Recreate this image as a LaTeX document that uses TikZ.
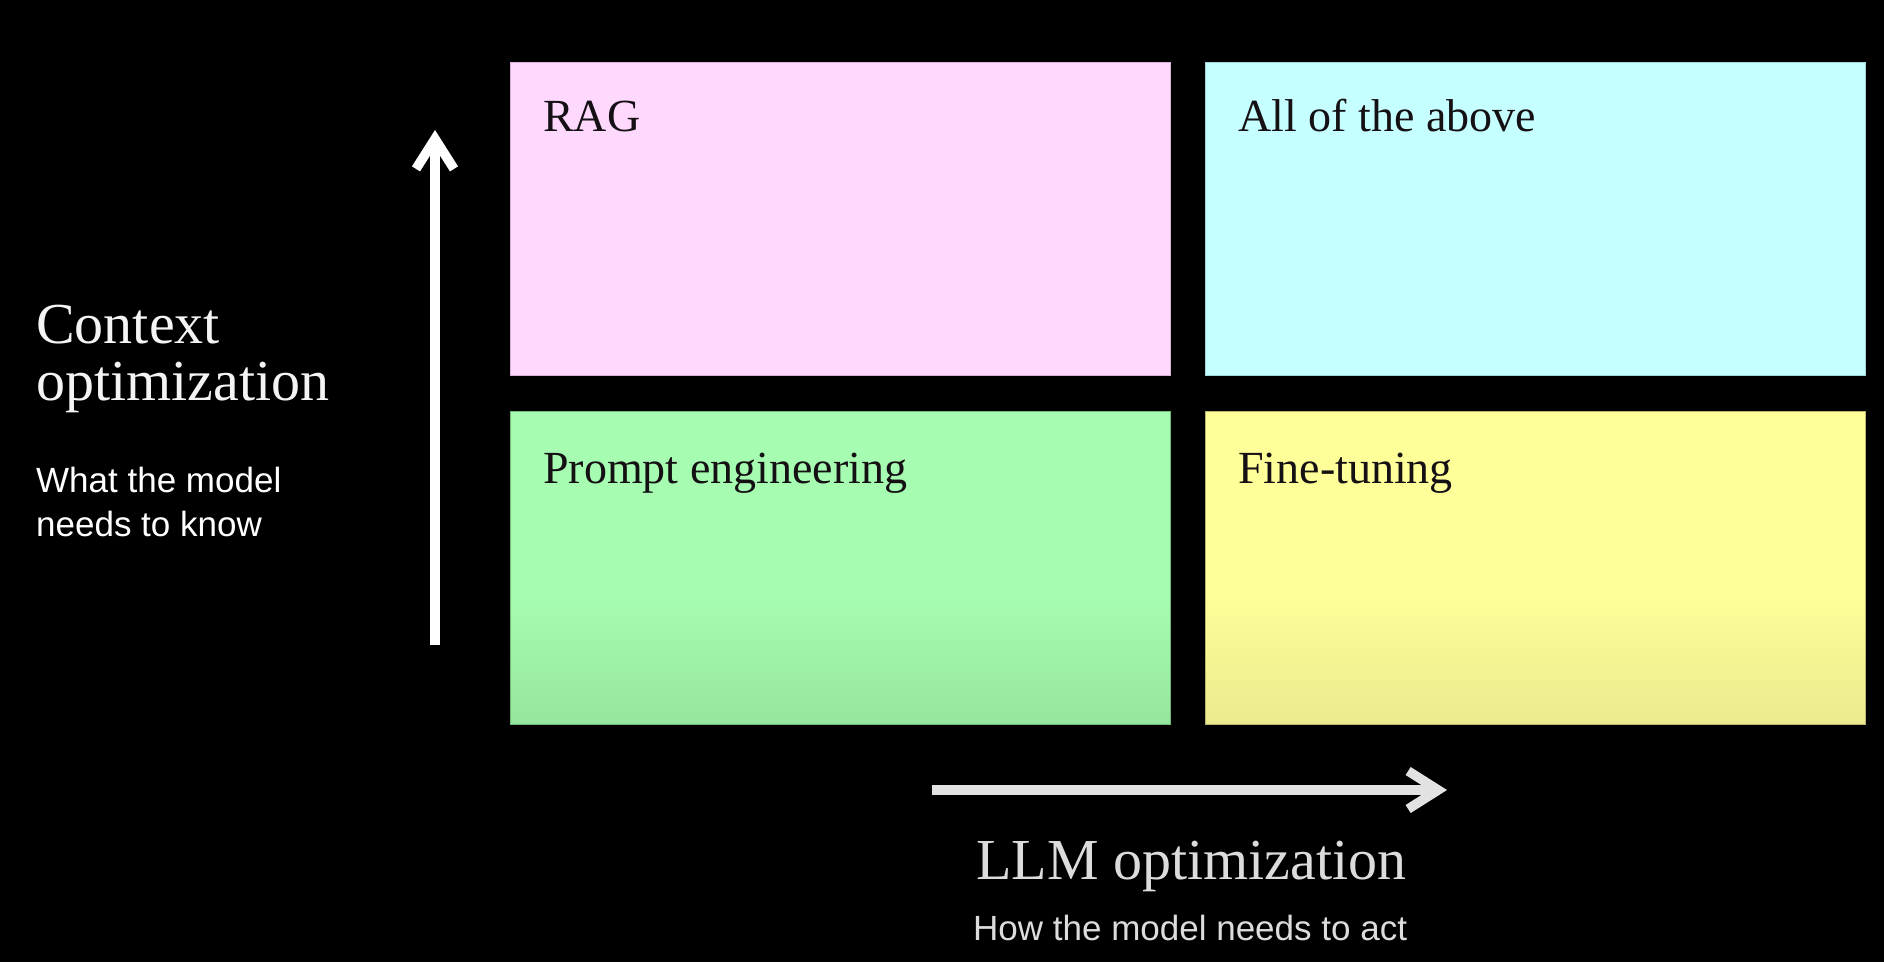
\documentclass[tikz,border=0pt]{standalone}
\usepackage{fontspec}
\setmainfont{Liberation Serif}
\setsansfont{Liberation Sans}
\usetikzlibrary{arrows.meta}
\definecolor{pinkbox}{HTML}{FFD8FE}
\definecolor{pinkedge}{HTML}{D8B0D8}
\definecolor{cyanbox}{HTML}{C6FFFF}
\definecolor{cyanedge}{HTML}{A0D8D8}
\definecolor{greentop}{HTML}{A6FCB0}
\definecolor{greenbot}{HTML}{96E79D}
\definecolor{greenedge}{HTML}{70B878}
\definecolor{yellowtop}{HTML}{FFFF99}
\definecolor{yellowbot}{HTML}{ECEA8E}
\definecolor{yellowedge}{HTML}{B8B670}
\definecolor{axisgray}{HTML}{E2E2E2}
\definecolor{labelwhite}{HTML}{F4F4F4}
\definecolor{labelgray}{HTML}{DCDCDC}
\definecolor{inktext}{HTML}{141014}
\pgfdeclareverticalshading{greenfade}{100bp}{color(0bp)=(greenbot); color(25bp)=(greenbot); color(46bp)=(greentop); color(100bp)=(greentop)}
\pgfdeclareverticalshading{yellowfade}{100bp}{color(0bp)=(yellowbot); color(25bp)=(yellowbot); color(46bp)=(yellowtop); color(100bp)=(yellowtop)}
\tikzset{
  quadbox/.style={rectangle, inner sep=0pt, outer sep=0pt, line width=1pt,
    minimum width=660pt, minimum height=313pt, anchor=north west},
  boxlabel/.style={inner sep=0pt, anchor=base west, text=inktext,
    font=\fontsize{46}{46}\selectfont},
  biglabel/.style={inner sep=0pt, anchor=base west,
    font=\fontsize{58}{58}\selectfont},
  smalllabel/.style={inner sep=0pt, anchor=base west,
    font=\sffamily\fontsize{35}{35}\selectfont},
  axisarrow/.style={line width=9.5pt, line cap=butt,
    -{Straight Barb[length=30pt,width=38pt]}}
}
\begin{document}
\begin{tikzpicture}[x=1pt,y=-1pt]
\fill[black] (0,0) rectangle (1884,962);
\useasboundingbox (0,0) rectangle (1884,962);

% quadrants
\node[quadbox, fill=pinkbox, draw=pinkedge] (rag) at (510,62) {};
\node[quadbox, fill=cyanbox, draw=cyanedge] (all) at (1205,62) {};
\node[quadbox, shading=greenfade, draw=greenedge] (prompt) at (510,411) {};
\node[quadbox, shading=yellowfade, draw=yellowedge] (fine) at (1205,411) {};

% quadrant labels
\node[boxlabel] (ragtext) at (543,131) {RAG};
\node[boxlabel] (alltext) at (1238,131) {All of the above};
\node[boxlabel] (prompttext) at (543,483) {Prompt engineering};
\node[boxlabel] (finetext) at (1238,483) {Fine-tuning};

% vertical axis
\coordinate (vstart) at (435,645);
\coordinate (vend) at (435,130);
\draw[axisarrow, draw=white] (vstart) -- (vend);

% horizontal axis
\coordinate (hstart) at (932,790);
\coordinate (hend) at (1447,790);
\draw[axisarrow, draw=axisgray] (hstart) -- (hend);

% left labels
\node[biglabel, text=labelwhite] (ctx1) at (36,343) {Context};
\node[biglabel, text=labelwhite] (ctx2) at (36,400) {optimization};
\node[smalllabel, text=white] (know1) at (36,492) {What the model};
\node[smalllabel, text=white] (know2) at (36,536) {needs to know};

% bottom labels
\node[biglabel, text=labelgray] (llm) at (976,879) {LLM optimization};
\node[smalllabel, text=labelgray] (act) at (973,940) {How the model needs to act};
\end{tikzpicture}
\end{document}
